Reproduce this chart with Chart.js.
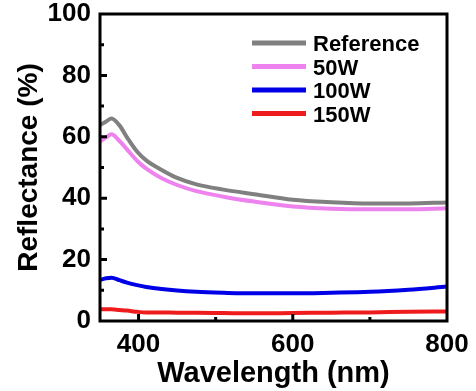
<!DOCTYPE html>
<html>
<head>
<meta charset="utf-8">
<script src="https://cdn.jsdelivr.net/npm/chart.js@4.4.1/dist/chart.umd.min.js"></script>
<style>
html,body{margin:0;padding:0;background:#fff;}
#wrap{width:476px;height:391px;position:relative;}
</style>
</head>
<body>
<div id="wrap"><canvas id="c" width="476" height="391"></canvas></div>
<script>
// Data
const wavelengths = [350, 358, 365, 375, 385, 398, 410, 430, 450, 475, 510, 550, 600, 650, 700, 750, 800];
const reference   = [63.8, 65.0, 66.0, 63.8, 59.8, 55.2, 52.3, 49.2, 46.6, 44.5, 42.8, 41.3, 39.5, 38.7, 38.3, 38.3, 38.6];
const w50         = [58.4, 59.8, 60.8, 58.7, 55.9, 52.2, 49.6, 46.5, 44.3, 42.3, 40.5, 38.9, 37.3, 36.6, 36.4, 36.4, 36.7];
const w100        = [13.4, 13.9, 14.1, 13.3, 12.5, 11.7, 11.1, 10.4, 9.9, 9.5, 9.2, 9.0, 9.0, 9.2, 9.5, 10.2, 11.2];
const w150        = [3.8, 3.8, 3.8, 3.6, 3.4, 3.0, 2.8, 2.8, 2.7, 2.7, 2.6, 2.5, 2.6, 2.7, 2.8, 3.0, 3.1];
const seriesLabels = ['Reference', '50W', '100W', '150W'];
const xTicks = [400, 600, 800];
const xMinorTicks = [500, 700];
const yTicks = [0, 20, 40, 60, 80, 100];
const yMinorTicks = [10, 30, 50, 70, 90];

const colors = ['#808080', '#ee82ee', '#0000e6', '#ee1c1c'];
const allSeries = [reference, w50, w100, w150];

function pts(arr){ return wavelengths.map((w,i)=>({x:w, y:arr[i]})); }

const FONT = "'Liberation Sans', Arial, sans-serif";

const framePlugin = {
  id: 'frame',
  afterDatasetsDraw(chart){
    const ctx = chart.ctx, a = chart.chartArea;
    const xs = chart.scales.x, ys = chart.scales.y;
    ctx.save();
    ctx.strokeStyle = '#000';
    ctx.lineWidth = 3;
    ctx.strokeRect(a.left, a.top, a.right - a.left, a.bottom - a.top);
    ctx.beginPath();
    yTicks.forEach(v=>{ if(v>0 && v<100){ const y = ys.getPixelForValue(v); ctx.moveTo(a.left, y); ctx.lineTo(a.left+7, y);} });
    yMinorTicks.forEach(v=>{ const y = ys.getPixelForValue(v); ctx.moveTo(a.left, y); ctx.lineTo(a.left+4, y); });
    xTicks.forEach(v=>{ if(v<800){ const x = xs.getPixelForValue(v); ctx.moveTo(x, a.bottom); ctx.lineTo(x, a.bottom-7);} });
    xMinorTicks.forEach(v=>{ const x = xs.getPixelForValue(v); ctx.moveTo(x, a.bottom); ctx.lineTo(x, a.bottom-4); });
    ctx.stroke();
    // legend
    const lx0 = 252, lx1 = 306, tx = 313, y0 = 43, dy = 23.5;
    chart.data.datasets.forEach((ds, i)=>{
      const y = y0 + i*dy;
      ctx.strokeStyle = ds.borderColor;
      ctx.lineWidth = 5;
      ctx.beginPath(); ctx.moveTo(lx0, y); ctx.lineTo(lx1, y); ctx.stroke();
      ctx.fillStyle = '#000';
      ctx.font = 'bold 22px ' + FONT;
      ctx.textAlign = 'left';
      ctx.textBaseline = 'middle';
      ctx.fillText(ds.label, tx, y + 2);
    });
    ctx.restore();
  }
};

new Chart(document.getElementById('c'), {
  type: 'line',
  data: {
    datasets: allSeries.map((s, i)=>({
      label: seriesLabels[i],
      data: pts(s),
      borderColor: colors[i],
      backgroundColor: colors[i],
      borderWidth: 4,
      pointRadius: 0,
      cubicInterpolationMode: 'monotone',
      fill: false
    }))
  },
  options: {
    responsive: false,
    animation: false,
    layout: { padding: { top: 14, right: 29, left: 0, bottom: 0 } },
    plugins: { legend: { display: false }, tooltip: { enabled: false } },
    scales: {
      x: {
        type: 'linear', min: 350, max: 800,
        afterBuildTicks(sc){ sc.ticks = xTicks.map(v=>({value:v})); },
        afterFit(sc){ sc.height = 70; sc.paddingLeft = 0; sc.paddingRight = 0; },
        grid: { display: false, drawTicks: false },
        border: { display: false },
        ticks: { color: '#000', font: { family: FONT, size: 26, weight: 'bold' }, padding: 8, maxRotation: 0 },
        title: { display: true, text: 'Wavelength (nm)', color: '#000', font: { family: FONT, size: 29, weight: 'bold' }, padding: { top: -4, bottom: 0 } }
      },
      y: {
        type: 'linear', min: 0, max: 100,
        afterBuildTicks(sc){ sc.ticks = yTicks.map(v=>({value:v})); },
        afterFit(sc){ sc.width = 100; sc.paddingTop = 0; sc.paddingBottom = 0; },
        grid: { display: false, drawTicks: false },
        border: { display: false },
        ticks: { color: '#000', font: { family: FONT, size: 26, weight: 'bold' }, padding: 9 },
        title: { display: true, text: 'Reflectance (%)', color: '#000', font: { family: FONT, size: 28, weight: 'bold' }, padding: { top: 12, bottom: 0 } }
      }
    }
  },
  plugins: [framePlugin]
});
</script>
</body>
</html>
